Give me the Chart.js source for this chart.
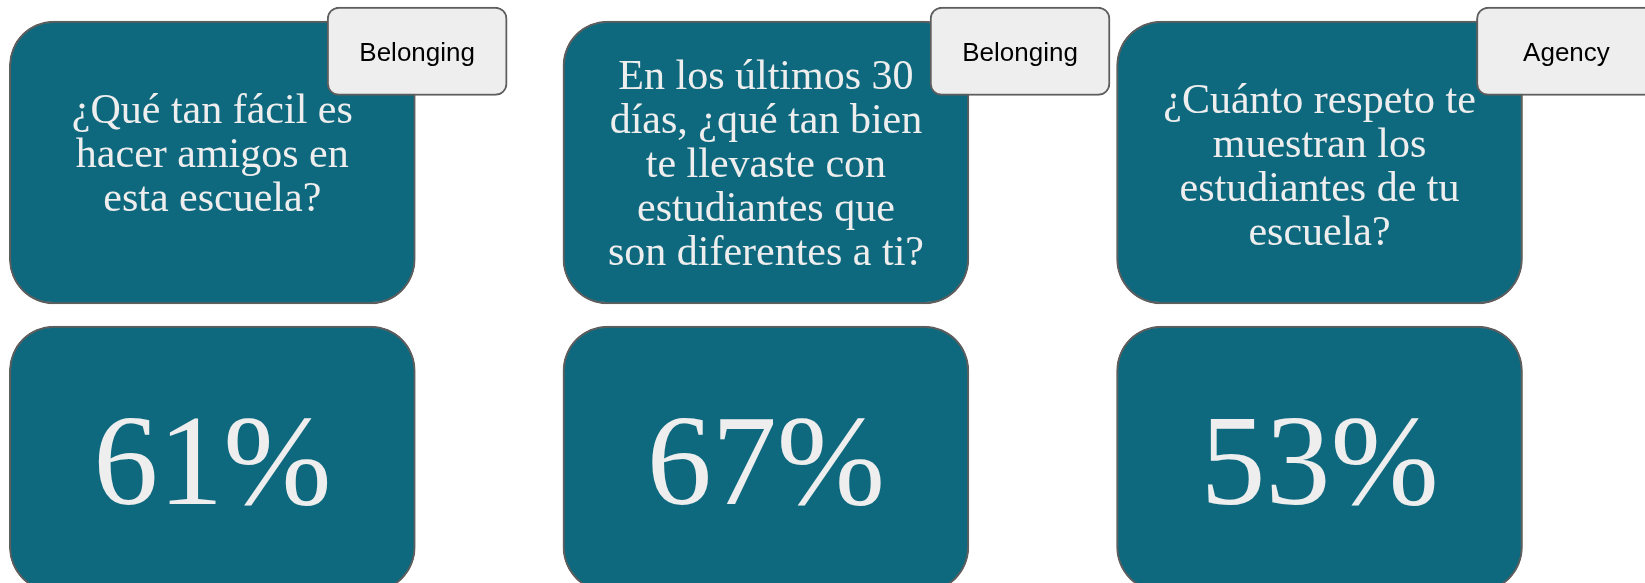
<!DOCTYPE html>
<html>
<head>
<meta charset="utf-8">
<script src="https://cdn.jsdelivr.net/npm/chart.js@4"></script>
<style>
  body { margin: 0; background: #ffffff; }
  #wrap { width: 1645px; height: 583px; position: relative; }
</style>
</head>
<body>
<div id="wrap"><canvas id="myChart"></canvas></div>
<script>
// data
const questions = [
	"¿Qué tan fácil es\nhacer amigos en\nesta escuela?",
	"En los últimos 30\ndías, ¿qué tan bien\nte llevaste con\nestudiantes que\nson diferentes a ti?",
	"¿Cuánto respeto te\nmuestran los\nestudiantes de tu\nescuela?"
];
const tags = ["Belonging", "Belonging", "Agency"];
const percents = [61, 67, 53];

// layout (card index -> slot on the x axis)
const tagShift = [0.37, 0.459, 0.446];
const textShift = [4, 14, 16];
const teal = '#0f697e';
const edge = '#5e5e5e';

const cardData = questions.map((q, i) => ({x: i, y: [21, 304]}));
const valueData = percents.map((p, i) => ({x: i, y: [326, 592]}));
const tagData = tags.map((t, i) => ({x: i + tagShift[i], y: [7, 95.5]}));

const cardText = {
	id: 'cardText',
	afterDatasetsDraw(chart) {
		const ctx = chart.ctx;
		ctx.save();
		ctx.textAlign = 'center';

		// questions
		ctx.fillStyle = '#eeeeee';
		ctx.font = '42px "Liberation Serif"';
		ctx.textBaseline = 'alphabetic';
		chart.getDatasetMeta(1).data.forEach((bar, i) => {
			const lines = questions[i].split('\n');
			const mid = (bar.y + bar.base) / 2 + textShift[i];
			const first = mid - (lines.length - 1) / 2 * 44;
			lines.forEach((l, j) => ctx.fillText(l, bar.x, first + j * 44));
		});

		// percentages
		ctx.font = '130px "Liberation Serif"';
		chart.getDatasetMeta(2).data.forEach((bar, i) => {
			const top = Math.min(bar.y, bar.base);
			ctx.fillText(percents[i] + '%', bar.x, top + 178);
		});

		// tags
		ctx.fillStyle = '#000000';
		ctx.font = '26px "Liberation Sans"';
		ctx.textBaseline = 'middle';
		chart.getDatasetMeta(0).data.forEach((bar, i) => {
			ctx.fillText(tags[i], bar.x, (bar.y + bar.base) / 2 + 3);
		});
		ctx.restore();
	}
};

const config = {
	type: 'bar',
	data: {
		datasets: [{
			label: 'Tag',
			data: tagData,
			order: 0,
			backgroundColor: '#eeeeee',
			borderColor: edge,
			borderWidth: 2,
			borderRadius: 12,
			borderSkipped: false,
			barThickness: 180
		}, {
			label: 'Pregunta',
			data: cardData,
			order: 1,
			backgroundColor: teal,
			borderColor: edge,
			borderWidth: 2,
			borderRadius: 45,
			borderSkipped: false,
			barThickness: 406
		}, {
			label: 'Porcentaje',
			data: valueData,
			order: 2,
			backgroundColor: teal,
			borderColor: edge,
			borderWidth: 2,
			borderRadius: 45,
			borderSkipped: false,
			barThickness: 406
		}]
	},
	options: {
		responsive: true,
		maintainAspectRatio: false,
		animation: false,
		events: [],
		layout: { padding: 0 },
		datasets: { bar: { grouped: false } },
		plugins: {
			legend: { display: false },
			tooltip: { enabled: false },
			title: { display: false }
		},
		scales: {
			x: { type: 'linear', min: -0.3835, max: 2.5879, offset: false, display: false },
			y: { type: 'linear', min: 0, max: 583, reverse: true, display: false }
		}
	},
	plugins: [cardText]
};

const myChart = new Chart(document.getElementById('myChart'), config);
</script>
</body>
</html>
